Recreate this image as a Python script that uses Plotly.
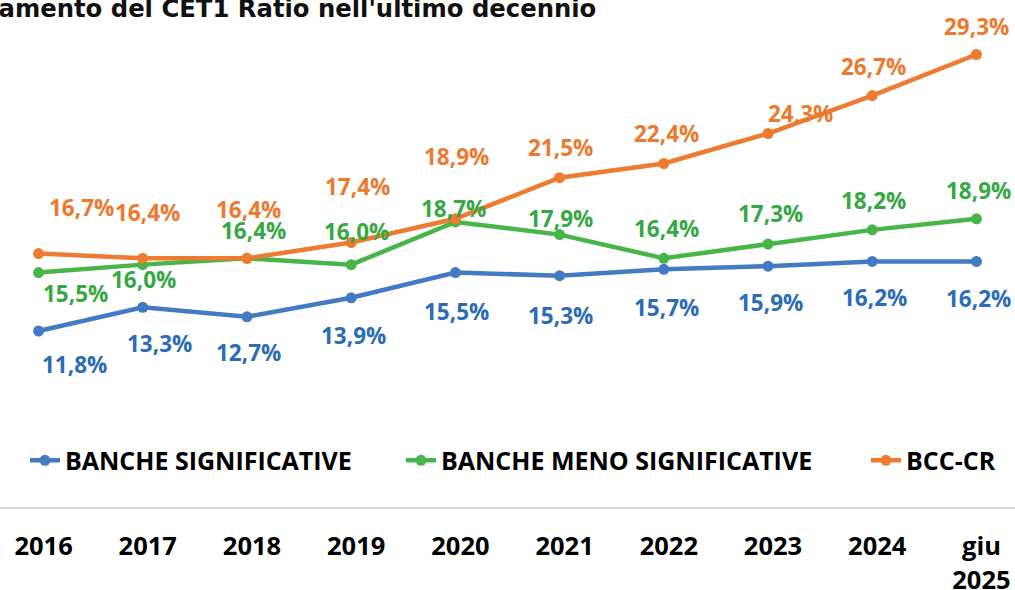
import plotly.graph_objects as go

# ---- data ----
categories = ["2016", "2017", "2018", "2019", "2020", "2021", "2022", "2023", "2024", "giu 2025"]
tick_labels = ["2016", "2017", "2018", "2019", "2020", "2021", "2022", "2023", "2024", "giu<br>2025"]
banche_significative = [11.8, 13.3, 12.7, 13.9, 15.5, 15.3, 15.7, 15.9, 16.2, 16.2]
banche_meno_significative = [15.5, 16.0, 16.4, 16.0, 18.7, 17.9, 16.4, 17.3, 18.2, 18.9]
bcc_cr = [16.7, 16.4, 16.4, 17.4, 18.9, 21.5, 22.4, 24.3, 26.7, 29.3]
series_names = ["BANCHE SIGNIFICATIVE", "BANCHE MENO SIGNIFICATIVE", "BCC-CR"]
title_text = "Andamento del CET1 Ratio nell'ultimo decennio"

# ---- style ----
W, H = 1015, 590
line_colors = ["#4479C4", "#46B649", "#EE7B30"]
label_colors = ["#2B6CB8", "#36A843", "#EC7A2E"]
# label offsets (pixels) relative to each point
label_dx = [
    [36, 17, 2, 2, 1, 1, 3, 2, 2, 2],
    [37, 1, 7, 5, -2, 1, 3, 2, 1, 2],
    [43, 5, 2, 6, 1, 1, 3, 32, 1, 0],
]
label_dy = [
    [-34, -36, -36, -38, -39, -40, -38, -36, -36, -37],
    [-21, -15, 28, 33, 13, 16, 30, 31, 29, 28],
    [46, 46, 49, 56, 62, 30, 30, 20, 29, 28],
]
label_font = "Open Sans"
plot_top, plot_bottom = 27, 507

fig = go.Figure()
all_series = [banche_significative, banche_meno_significative, bcc_cr]
legend_ids = ["legend", "legend2", "legend3"]
for i, vals in enumerate(all_series):
    fig.add_trace(go.Scatter(
        x=categories, y=vals, name=series_names[i], mode="lines+markers",
        line=dict(color=line_colors[i], width=4.5),
        marker=dict(color=line_colors[i], size=11),
        legend=legend_ids[i], hoverinfo="x+y",
    ))

annotations = []
for i, vals in enumerate(all_series):
    for j, v in enumerate(vals):
        annotations.append(dict(
            x=j, y=v, xref="x", yref="y",
            text=f"{v:.1f}".replace(".", ",") + "%",
            showarrow=False, xanchor="center", yanchor="middle",
            xshift=label_dx[i][j], yshift=label_dy[i][j],
            font=dict(family=label_font, size=22.5, color=label_colors[i], weight=700),
        ))

# partially cropped title
annotations.append(dict(
    x=598 / W, y=1, xref="paper", yref="paper", xanchor="right", yanchor="bottom",
    yshift=2, text=title_text, showarrow=False,
    font=dict(family="DejaVu Sans", size=24.3, color="#111111", weight=700),
))

legend_common = dict(
    orientation="h", yanchor="middle", xanchor="left", y=(plot_bottom - 460.6) / (plot_bottom - plot_top),
    font=dict(family=label_font, size=25, color="#000000", weight=700),
    bgcolor="rgba(0,0,0,0)", borderwidth=0,
)
fig.update_layout(
    width=W, height=H,
    margin=dict(l=0, r=0, t=plot_top, b=H - plot_bottom, pad=0, autoexpand=False),
    paper_bgcolor="white", plot_bgcolor="white",
    showlegend=True,
    legend=dict(x=25 / W, **legend_common),
    legend2=dict(x=401 / W, **legend_common),
    legend3=dict(x=866 / W, **legend_common),
    annotations=annotations,
    xaxis=dict(
        type="category", range=[-0.37, 9.37], tickvals=categories, ticktext=tick_labels,
        showgrid=False, zeroline=False, showline=True, linecolor="#D6D6D6", linewidth=1.5,
        ticks="", ticklabelstandoff=16, ticklabelshift=5, automargin=False,
        tickfont=dict(family=label_font, size=25.5, color="#000000", weight=700),
    ),
    yaxis=dict(
        range=[0.66, 31.04], showgrid=False, zeroline=False, showline=False,
        showticklabels=False, ticks="", automargin=False,
    ),
)

fig.write_html(
    "out.html",
    config={"displayModeBar": False},
    post_script="document.body.style.margin='0px';document.body.style.overflow='hidden';",
)
